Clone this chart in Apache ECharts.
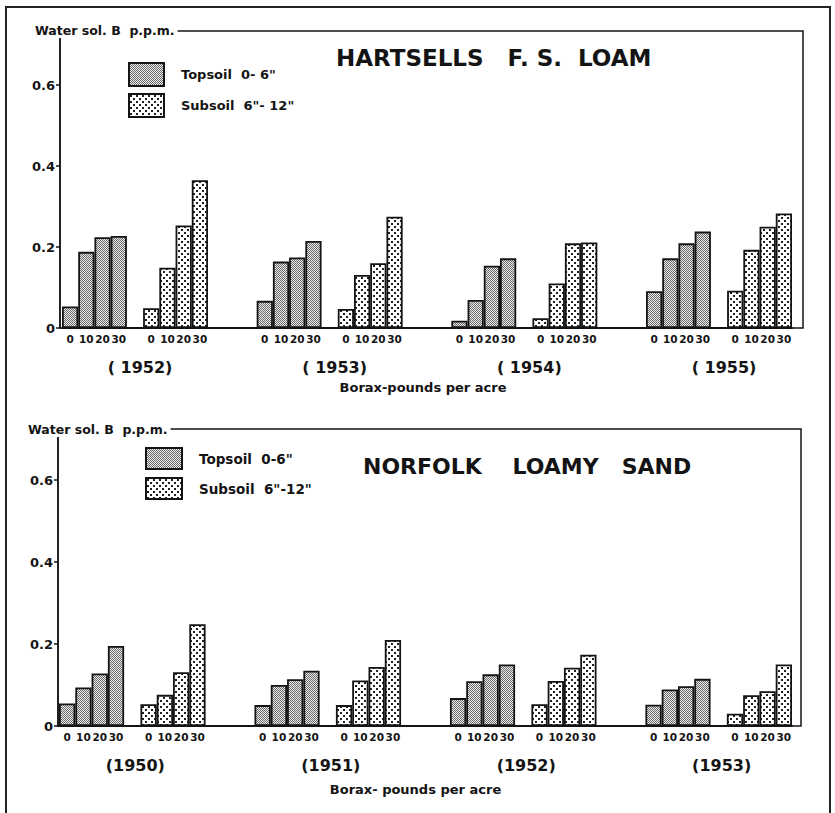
<!DOCTYPE html>
<html><head><meta charset="utf-8">
<script src="https://cdn.jsdelivr.net/npm/echarts@6/dist/echarts.min.js"></script>
<style>html,body{margin:0;padding:0;background:#fff}#c{width:835px;height:813px}</style>
</head><body><div id="c"></div>
<script>
// ---- data ----
const rates = ['0', '10', '20', '30'];
const yTicks = [0, 0.2, 0.4, 0.6];

const hartYears = ['1952', '1953', '1954', '1955'];
const hartTopsoil = [
  [0.053, 0.188, 0.224, 0.227],
  [0.067, 0.164, 0.174, 0.215],
  [0.018, 0.069, 0.154, 0.172],
  [0.091, 0.172, 0.209, 0.238]
];
const hartSubsoil = [
  [0.049, 0.149, 0.253, 0.365],
  [0.047, 0.131, 0.160, 0.275],
  [0.024, 0.110, 0.209, 0.211],
  [0.092, 0.193, 0.250, 0.283]
];

const norfYears = ['1950', '1951', '1952', '1953'];
const norfTopsoil = [
  [0.055, 0.094, 0.128, 0.195],
  [0.051, 0.100, 0.114, 0.135],
  [0.068, 0.109, 0.126, 0.150],
  [0.052, 0.089, 0.097, 0.115]
];
const norfSubsoil = [
  [0.053, 0.076, 0.131, 0.248],
  [0.051, 0.111, 0.144, 0.210],
  [0.053, 0.110, 0.142, 0.174],
  [0.030, 0.075, 0.085, 0.150]
];

// ---- helpers ----
const GROUP = 12; // 4 topsoil + 1 gap + 4 subsoil + 3 gap
const NSLOT = 3 * GROUP + 9;
function rateCategories() {
  const c = [];
  for (let g = 0; g < 4; g++) {
    rates.forEach(r => c.push(r));
    c.push(' ');
    rates.forEach(r => c.push(r));
    if (g < 3) { c.push(' '); c.push(' '); c.push(' '); }
  }
  return c;
}
function yearCategories(years, fmt) {
  const c = [];
  for (let i = 0; i < NSLOT; i++) c.push('');
  years.forEach((y, g) => { c[g * GROUP + 4] = fmt(y); });
  return c;
}
function fill(values, offset) {
  const a = new Array(NSLOT).fill('-');
  values.forEach((grp, g) => grp.forEach((v, i) => { a[g * GROUP + offset + i] = v; }));
  return a;
}
function pattern(kind) {
  const c = document.createElement('canvas');
  const ctx = c.getContext('2d');
  if (kind === 'top') {
    c.width = 2; c.height = 2;
    ctx.fillStyle = '#ececec'; ctx.fillRect(0, 0, 2, 2);
    ctx.fillStyle = '#6a6a6a'; ctx.fillRect(0, 0, 1, 1); ctx.fillRect(1, 1, 1, 1);
  } else {
    c.width = 6; c.height = 6;
    ctx.fillStyle = '#fff'; ctx.fillRect(0, 0, 6, 6);
    ctx.fillStyle = '#222'; ctx.fillRect(1, 1, 2, 2); ctx.fillRect(4, 4, 2, 2);
  }
  return { image: c, repeat: 'repeat' };
}
const topFill = pattern('top');
const subFill = pattern('sub');
const INK = '#141414';
const FONT = 'DejaVu Sans';

const rateCats = rateCategories();

function rateAxis(gridIndex, name, nameGap, namePad) {
  return {
    type: 'category', gridIndex, data: rateCats.map((v, i) => 'c' + i),
    position: 'bottom',
    axisLine: { show: true, lineStyle: { color: INK, width: 2 } },
    axisTick: { show: false },
    axisLabel: {
      interval: 0, margin: 5, color: INK, fontSize: 10.5, fontWeight: 'bold', fontFamily: FONT,
      formatter: (v) => rateCats[+v.slice(1)]
    },
    name, nameLocation: 'middle', nameGap,
    nameTextStyle: { color: INK, fontSize: 13, fontWeight: 'bold', fontFamily: FONT, padding: namePad }
  };
}
function yearAxis(gridIndex, cats, margin, pad) {
  return {
    type: 'category', gridIndex, data: cats.map((v, i) => 'y' + i),
    position: 'bottom',
    axisLine: { show: false }, axisTick: { show: false },
    axisLabel: {
      interval: 0, margin, color: INK, fontSize: 16, fontWeight: 'bold', fontFamily: FONT,
      padding: pad, formatter: (v) => cats[+v.slice(1)]
    }
  };
}
function valAxis(gridIndex, max, offset) {
  return {
    type: 'value', gridIndex, min: 0, max, offset,
    splitLine: { show: false },
    axisLine: { show: true, lineStyle: { color: INK, width: 1.5 } },
    axisTick: { show: true, length: 4, lineStyle: { color: INK, width: 1.5 }, customValues: yTicks },
    axisLabel: {
      color: INK, fontSize: 13, fontWeight: 'bold', fontFamily: FONT, margin: 5,
      customValues: yTicks, formatter: v => v === 0 ? '0' : v.toFixed(1)
    }
  };
}
function barSeries(name, xi, yi, data, color) {
  return {
    type: 'bar', name, xAxisIndex: xi, yAxisIndex: yi, data,
    barWidth: '100%', barCategoryGap: '0%', barGap: '-100%',
    itemStyle: { color, borderColor: INK, borderWidth: 1.8 },
    emphasis: { disabled: true }, animation: false
  };
}

const chart = echarts.init(document.getElementById('c'), null, { renderer: 'svg' });
const titleText = { color: INK, fontWeight: 'bold', fontFamily: FONT };
chart.setOption({
  animation: false,
  backgroundColor: '#fff',
  title: [
    { text: 'Water sol. B  p.p.m.', left: 33, top: 23, padding: [1, 3, 1, 2], backgroundColor: '#fff', z: 10,
      textStyle: Object.assign({ fontSize: 12.5 }, titleText) },
    { text: 'HARTSELLS   F. S.  LOAM', left: 336, top: 46, padding: 0,
      textStyle: Object.assign({ fontSize: 23 }, titleText) },
    { text: 'Water sol. B  p.p.m.', left: 26, top: 422, padding: [1, 3, 1, 2], backgroundColor: '#fff', z: 10,
      textStyle: Object.assign({ fontSize: 12.5 }, titleText) },
    { text: 'NORFOLK    LOAMY   SAND', left: 363, top: 455, padding: 0,
      textStyle: Object.assign({ fontSize: 22 }, titleText) }
  ],
  legend: [
    { data: ['Topsoil  0- 6"', 'Subsoil  6"- 12"'], left: 123, top: 57, orient: 'vertical',
      itemWidth: 35, itemHeight: 23, itemGap: 6, icon: 'rect', selectedMode: false,
      itemStyle: { borderColor: INK, borderWidth: 2 },
      textStyle: { color: INK, fontSize: 13, fontWeight: 'bold', fontFamily: FONT, padding: [0, 0, 0, 12] } },
    { data: ['Topsoil  0-6"', 'Subsoil  6"-12"'], left: 140, top: 442, orient: 'vertical',
      itemWidth: 36, itemHeight: 21, itemGap: 7, icon: 'rect', selectedMode: false,
      itemStyle: { borderColor: INK, borderWidth: 2 },
      textStyle: { color: INK, fontSize: 13.5, fontWeight: 'bold', fontFamily: FONT, padding: [0, 0, 0, 12] } }
  ],
  grid: [
    { left: 62, top: 31, width: 730, height: 297, containLabel: false, outerBoundsMode: 'none' },
    { left: 59, top: 429, width: 733, height: 297, containLabel: false, outerBoundsMode: 'none' },
    // frames
    { left: 60, top: 31, width: 743, height: 297, show: true, borderColor: INK, borderWidth: 1.5,
      backgroundColor: 'transparent', containLabel: false, outerBoundsMode: 'none' },
    { left: 58, top: 429, width: 743, height: 297, show: true, borderColor: INK, borderWidth: 1.5,
      backgroundColor: 'transparent', containLabel: false, outerBoundsMode: 'none' }
  ],
  xAxis: [
    rateAxis(0, 'Borax-pounds per acre', 53, [0, 8, 0, 0]),
    yearAxis(0, yearCategories(hartYears, y => '( ' + y + ')'), 31, [0, 0, 0, 10]),
    rateAxis(1, 'Borax- pounds per acre', 57, [0, 20, 0, 0]),
    yearAxis(1, yearCategories(norfYears, y => '(' + y + ')'), 31, [0, 0, 0, 6])
  ],
  yAxis: [
    valAxis(0, 297 / 405, 2),
    valAxis(1, 297 / 410, 1)
  ],
  graphic: [
    { type: 'rect', shape: { x: 6, y: 7, width: 824, height: 830 }, silent: true,
      style: { fill: 'none', stroke: '#222', lineWidth: 2 } }
  ],
  series: [
    barSeries('Topsoil  0- 6"', 0, 0, fill(hartTopsoil, 0), topFill),
    barSeries('Subsoil  6"- 12"', 0, 0, fill(hartSubsoil, 5), subFill),
    barSeries('Topsoil  0-6"', 2, 1, fill(norfTopsoil, 0), topFill),
    barSeries('Subsoil  6"-12"', 2, 1, fill(norfSubsoil, 5), subFill)
  ]
});
</script>
</body></html>
